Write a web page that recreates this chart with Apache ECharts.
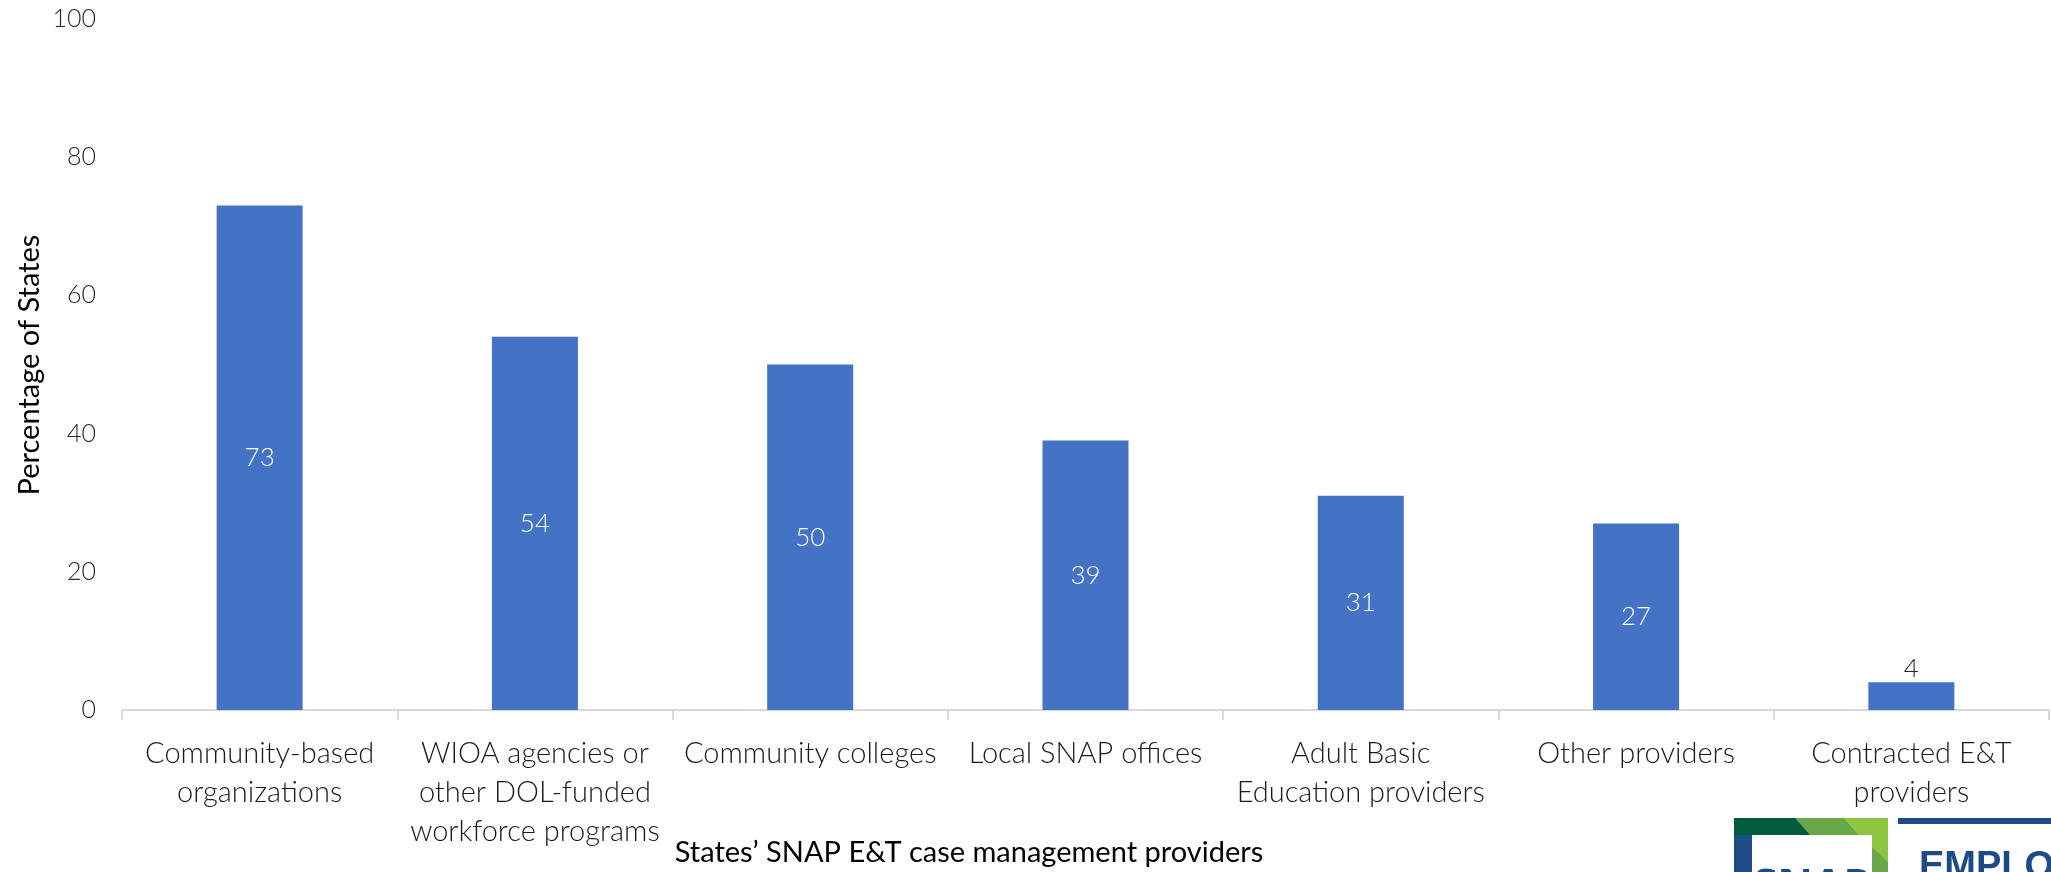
<!DOCTYPE html>
<html>
<head>
<meta charset="utf-8">
<script src="https://cdn.jsdelivr.net/npm/echarts@6/dist/echarts.min.js"></script>
<style>
html,body{margin:0;padding:0;background:#fff;}
#chart{width:2051px;height:872px;}
</style>
</head>
<body>
<div id="chart"></div>
<script>
const categories = [
  "Community-based\norganizations",
  "WIOA agencies or\nother DOL-funded\nworkforce programs",
  "Community colleges",
  "Local SNAP offices",
  "Adult Basic\nEducation providers",
  "Other providers",
  "Contracted E&T\nproviders"
];
const values = [73, 54, 50, 39, 31, 27, 4];
const yTicks = [0, 20, 40, 60, 80, 100];
const yAxisTitle = "Percentage of States";
const xAxisTitle = "States\u2019 SNAP E&T case management providers";

const FONT = "Lato";
const chart = echarts.init(document.getElementById('chart'), null, {renderer: 'canvas'});

const seriesData = values.map(v => {
  if (v < 10) {
    return {value: v, label: {position: 'top', color: '#262626', distance: 1}};
  }
  return v;
});

chart.setOption({
  animation: false,
  backgroundColor: '#ffffff',
  grid: {left: 122, right: 2, top: 19, bottom: 162, containLabel: false},
  xAxis: {
    type: 'category',
    data: categories,
    axisLine: {show: true, lineStyle: {color: '#d9d9d9', width: 2}},
    axisTick: {show: true, length: 10, lineStyle: {color: '#d9d9d9', width: 2}, interval: 0},
    axisLabel: {
      interval: 0, margin: 24, color: '#1a1a1a',
      fontFamily: FONT, fontWeight: 300, fontSize: 29, lineHeight: 39
    },
    splitLine: {show: false}
  },
  yAxis: {
    type: 'value',
    min: yTicks[0], max: yTicks[yTicks.length - 1], interval: 20,
    axisLine: {show: false}, axisTick: {show: false},
    splitLine: {show: false},
    axisLabel: {margin: 26, color: '#262626', fontFamily: FONT, fontWeight: 300, fontSize: 25}
  },
  series: [{
    type: 'bar',
    data: seriesData,
    barWidth: 86,
    itemStyle: {color: '#4472C4'},
    label: {
      show: true, position: 'inside', color: '#ffffff',
      fontFamily: FONT, fontWeight: 300, fontSize: 26
    }
  }],
  graphic: [
    {
      type: 'text', x: 30, y: 365, rotation: Math.PI / 2,
      style: {text: yAxisTitle, fill: '#000', font: '29px ' + FONT, textAlign: 'center', textVerticalAlign: 'middle'}
    },
    {
      type: 'text', x: 969, y: 853,
      style: {text: xAxisTitle, fill: '#000', font: '29px ' + FONT, textAlign: 'center', textVerticalAlign: 'middle'}
    },
    // logo fragment (bottom right)
    {type: 'rect', shape: {x: 1734, y: 818, width: 154, height: 60}, style: {fill: '#1c4b86'}},
    {type: 'polygon', shape: {points: [[1734,818],[1795,818],[1810,835],[1752,835]]}, style: {fill: '#005a3c'}},
    {type: 'polygon', shape: {points: [[1795,818],[1843,818],[1858,835],[1810,835]]}, style: {fill: '#68a848'}},
    {type: 'polygon', shape: {points: [[1843,818],[1888,818],[1888,878],[1872,878],[1872,835],[1858,835]]}, style: {fill: '#8cc640'}},
    {type: 'polygon', shape: {points: [[1872,847],[1888,862],[1888,878],[1872,878]]}, style: {fill: '#68a848'}},
    {type: 'polygon', shape: {points: [[1734,818],[1752,835],[1734,835]]}, style: {fill: '#005a3c'}},
    {type: 'rect', shape: {x: 1752, y: 835, width: 120, height: 45}, style: {fill: '#ffffff'}},
    {type: 'text', x: 1812, y: 866, style: {text: 'SNAP', fill: '#1c4b86', font: 'bold 44px "Open Sans"', textAlign: 'center', textVerticalAlign: 'top'}},
    {type: 'rect', shape: {x: 1898, y: 818, width: 160, height: 6}, style: {fill: '#1c4b86'}},
    {type: 'text', x: 1919, y: 849, style: {text: 'EMPLOYMENT', fill: '#1c4b86', font: 'bold 38px "Liberation Sans"', textAlign: 'left', textVerticalAlign: 'top'}}
  ]
});
</script>
</body>
</html>
